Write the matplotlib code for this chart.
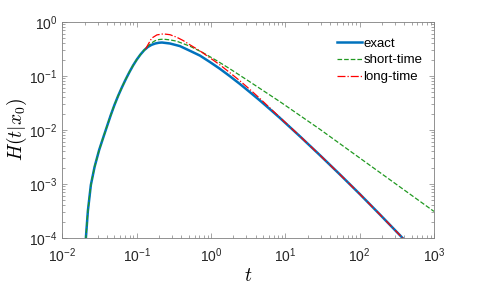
import matplotlib
matplotlib.use("Agg")
import matplotlib.pyplot as plt

plt.rcParams['font.family'] = ['Liberation Sans', 'DejaVu Sans']
plt.rcParams['mathtext.fontset'] = 'custom'
plt.rcParams['mathtext.rm'] = 'Liberation Sans'
plt.rcParams['mathtext.it'] = 'Liberation Sans:italic'

# values (log10 t, log10 H)
lt_exact = [-1.69, -1.684, -1.657, -1.617, -1.567, -1.505, -1.45, -1.40, -1.35,
            -1.30, -1.25, -1.20, -1.15, -1.10, -1.05, -1.00, -0.95, -0.90, -0.85, -0.80, -0.75,
            -0.70, -0.66, -0.553, -0.419, -0.284, -0.149, -0.015, 0.120, 0.254, 0.389,
            0.524, 0.658, 0.793, 0.928, 1.197, 1.466, 1.735, 2.004, 2.273, 2.542, 2.811]
lh_exact = [-4.4, -4.0, -3.5, -3.02, -2.685, -2.37, -2.14, -1.935, -1.73,
            -1.54, -1.37, -1.215, -1.07, -0.935, -0.81, -0.70, -0.605, -0.525, -0.465, -0.425, -0.40,
            -0.386, -0.382, -0.400, -0.448, -0.535, -0.624, -0.743, -0.869, -1.006, -1.150,
            -1.302, -1.456, -1.617, -1.780, -2.120, -2.469, -2.826, -3.191, -3.567, -3.950, -4.34]

lt_short = [-1.69, -1.684, -1.657, -1.617, -1.567, -1.505, -1.45, -1.40, -1.35,
            -1.30, -1.25, -1.20, -1.15, -1.10, -1.05, -1.00, -0.95, -0.90, -0.85, -0.80, -0.755,
            -0.70, -0.643, -0.553, -0.463, -0.284, -0.105, 0.075, 0.254, 0.524, 0.928,
            1.466, 1.869, 3.0]
lh_short = [-4.4, -4.0, -3.5, -3.02, -2.685, -2.37, -2.14, -1.935, -1.73,
            -1.54, -1.37, -1.215, -1.07, -0.935, -0.81, -0.70, -0.605, -0.525, -0.45, -0.39, -0.35,
            -0.327, -0.320, -0.333, -0.357, -0.450, -0.573, -0.716, -0.869, -1.111, -1.478,
            -1.989, -2.389, -3.509]

lt_long = [-0.88, -0.799, -0.728, -0.643, -0.553, -0.463, -0.378, -0.284, -0.149, -0.015,
           0.120, 0.254, 0.389, 0.524, 0.658, 0.793, 0.928, 1.197, 1.466, 1.735, 2.004,
           2.273, 2.542, 2.811]
lh_long = [-0.50, -0.302, -0.241, -0.222, -0.237, -0.283, -0.343, -0.424, -0.537, -0.665,
           -0.796, -0.941, -1.091, -1.252, -1.419, -1.594, -1.770, -2.117, -2.469, -2.826,
           -3.191, -3.567, -3.950, -4.34]

t_exact = [10 ** v for v in lt_exact]
h_exact = [10 ** v for v in lh_exact]
t_short = [10 ** v for v in lt_short]
h_short = [10 ** v for v in lh_short]
t_long = [10 ** v for v in lt_long]
h_long = [10 ** v for v in lh_long]

fig = plt.figure(figsize=(4.8, 2.88), dpi=100)
ax = fig.add_axes([0.130, 0.174, 0.774, 0.750])

ax.loglog(t_exact, h_exact, color=(0, 0.447, 0.741), lw=1.8, label='exact')
ax.loglog(t_short, h_short, '--', color=(0.13, 0.6, 0.13), lw=0.9, label='short-time')
ax.loglog(t_long, h_long, '-.', color=(1, 0, 0), lw=0.9, label='long-time')

ax.set_xlim(1e-2, 1e3)
ax.set_ylim(1e-4, 1e0)
ax.set_xlabel(r'$t$', fontsize=14, labelpad=2)
ax.set_ylabel(r'$H(t|x_0)$', fontsize=14, labelpad=0)
ax.xaxis.label.set_math_fontfamily('cm')
ax.yaxis.label.set_math_fontfamily('cm')

for s in ax.spines.values():
    s.set_color('0.5')
    s.set_linewidth(0.6)
ax.tick_params(which='both', direction='in', top=True, right=True, colors='0.5',
               labelcolor='0.15', labelsize=10, width=0.5)
ax.tick_params(axis='x', which='major', pad=6)
ax.tick_params(which='major', length=3.5)
ax.tick_params(which='minor', length=2)

leg = ax.legend(loc='upper right', bbox_to_anchor=(0.99, 0.965), frameon=False, fontsize=9.5,
                handlelength=1.9, handletextpad=0.1, labelspacing=0.35, borderaxespad=0.2)

fig.savefig('out.png', dpi=100)
